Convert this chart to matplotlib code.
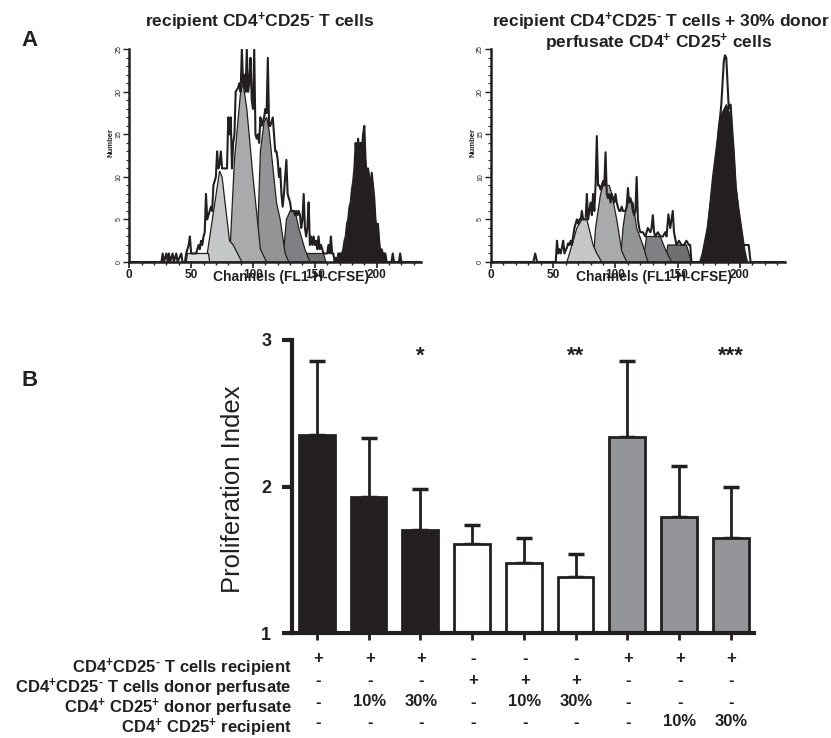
import matplotlib
matplotlib.use("Agg")
import matplotlib.pyplot as plt
from matplotlib.patches import Polygon
from matplotlib.ticker import MultipleLocator
import numpy as np

plt.rcParams.update({
    "font.family": ["Liberation Sans", "DejaVu Sans"],
    "mathtext.fontset": "custom",
    "mathtext.rm": "Liberation Sans:bold",
    "mathtext.bf": "Liberation Sans:bold",
    "mathtext.it": "Liberation Sans:bold",
    "mathtext.default": "rm",
})

INK = "#231f20"

# ---------------- Panel A: CFSE histograms ----------------
# raw event counts per channel (recipient CD4+CD25- T cells)
left_ch = [0, 25, 26, 27, 28, 30, 31, 32, 33, 35, 36, 38, 39, 42, 43, 45, 46, 48, 49, 50,
           52, 54, 56, 57, 58, 59, 60, 61, 62, 63, 64, 66, 67, 68, 70, 71, 72, 73, 74, 75,
           77, 79, 80, 81, 82, 83, 84, 85, 86, 88, 89, 90, 91, 92, 93, 94, 95, 96, 97, 98,
           99, 100, 101, 102, 103, 104, 105, 106, 107, 108, 109, 110, 111, 112, 113, 114, 115, 116, 117, 118,
           119, 120, 121, 122, 123, 124, 125, 126, 127, 128, 129, 130, 131, 132, 133, 134, 135, 136, 137, 138,
           139, 140, 141, 142, 143, 144, 145, 146, 147, 148, 149, 150, 151, 152, 153, 154, 155, 156, 157, 158,
           160, 161, 162, 163, 164, 165, 166, 167, 168, 169, 170, 171, 172, 173, 174, 175, 176, 177, 178, 179,
           180, 181, 182, 183, 184, 185, 186, 187, 188, 189, 190, 191, 192, 193, 194, 195, 196, 197, 198, 199,
           200, 201, 202, 203, 204, 205, 206, 207, 208, 212, 213, 214, 218, 219, 220, 236]
left_cnt = [0, 0, 0, 1, 0, 1, 0, 1, 0, 1, 0, 1, 0, 1, 0, 0, 1, 2, 3, 1,
            1, 1, 2, 1.5, 2.5, 2, 3, 3.5, 8, 5, 5.5, 6.5, 6, 9, 10, 13, 11, 11.5, 13, 11,
            11, 11, 17, 15, 17, 11, 14, 15, 20, 20.5, 21, 20, 25, 21, 22, 20, 25, 20, 21, 24,
            19, 18, 25, 15, 14.5, 15, 14, 17, 16, 16.5, 17, 18, 17.5, 24, 16, 16, 16.5, 17, 15, 13,
            13, 12, 10, 11, 8, 6.5, 8, 10, 12, 8, 7.5, 7, 6, 6, 6, 5.5, 6, 5.5, 6, 5.5,
            4, 5, 8, 4, 3, 4, 7, 2, 3, 2, 3, 2, 2.5, 1.5, 3, 1.5, 2, 1.5, 1, 1,
            1, 2, 1, 3, 1, 1, 0, 0.5, 0, 1, 1, 1, 1, 1.5, 2.5, 3, 4.5, 5, 6.5, 7,
            8.5, 9.5, 11, 14, 12, 14.5, 12.7, 14, 13, 15, 16, 12, 10, 11, 10, 8, 10.5, 9, 7.6, 5,
            4, 4.5, 2.5, 1, 1.5, 1, 1, 1, 0, 0, 1, 0, 0, 1, 0, 0]
left_parent = (168, 208)  # undivided parent peak, filled black

# fitted generations (channel, count) outlines, from parent side to most divided
left_gens = [
    [(142, 0), (143, 1), (157, 1), (159, 0)],
    [(124, 0), (127, 5), (130, 6), (134, 6), (137, 4), (142, 1.5), (146, 0)],
    [(103, 0), (106, 13), (109, 16.5), (111, 17), (113, 15.5), (119, 7), (122, 5), (126, 1), (129, 0)],
    [(81, 0), (85, 12), (90, 20), (92, 21), (95, 18), (100, 10), (106, 1.5), (111, 0)],
    [(62, 0), (73, 10.7), (75, 10), (81, 2.5), (84, 2), (91, 0)],
    [(46, 0), (47, 1), (64, 1), (65, 0)],
]

# recipient CD4+CD25- T cells + 30% donor perfusate CD4+CD25+ cells
right_ch = [0, 34, 35.5, 37, 52, 53, 54, 55, 56, 57, 58, 59, 61, 62, 63, 64, 65, 66, 67, 68,
            69, 70, 71, 72, 73, 74, 75, 76, 77, 78, 79, 80, 81, 82, 83, 84, 85, 86, 87, 88,
            89, 90, 91, 92, 93, 94, 95, 96, 97, 98, 99, 100, 101, 102, 103, 104, 105, 106, 107, 108,
            109, 110, 111, 112, 113, 114, 115, 116, 117, 118, 119, 120, 122, 124, 126, 128, 129, 130, 131, 132,
            134, 136, 138, 140, 141, 142.5, 144, 145, 146, 147, 149, 151, 153, 155, 157, 159, 160, 161, 168, 169,
            170, 172, 174, 176, 178, 180, 181, 183, 184, 185, 186, 187, 188, 189, 190, 191, 192.5, 194, 195, 196.5,
            198, 199, 200, 202, 204.5, 207, 208.5, 236]
right_cnt = [0, 0, 1, 0, 0, 2.5, 1, 1.5, 1, 1.7, 2.5, 1, 1.7, 2.2, 2, 2.5, 2, 3, 4, 4.5,
             5, 4.5, 5, 5, 6, 5, 5, 5, 8, 5, 6, 7, 5.5, 8, 6, 9, 14.8, 9, 9, 8.5,
             9, 9.5, 9, 12.9, 8, 7.5, 8, 7, 8, 7.5, 7, 8, 7, 6.4, 6, 6, 6.5, 6, 6, 6,
             6.5, 8.7, 7, 7.5, 7, 6, 5.5, 6, 10, 5, 4, 3.5, 3.5, 3, 4, 3.5, 4, 5.5, 3.5, 3,
             3.5, 3, 3, 3.5, 3, 5.6, 4, 5, 6, 3.5, 2, 2.5, 2, 2, 2.5, 2, 2, 0, 0, 0.5,
             1, 2.5, 4, 6.4, 8.5, 11, 12, 15.8, 17, 18.5, 21, 23.6, 24.3, 24, 21, 18, 18.5, 15, 13, 9,
             7, 5, 4, 2, 2, 2, 0, 0]

right_gens = [
    [(169, 0), (173, 2.5), (178, 10), (184, 17), (189, 18.5), (193, 17), (197, 8.4), (204, 1.3), (206, 0)],
    [(140, 0), (142, 2), (157, 2), (159, 1), (161, 0)],
    [(122, 0), (125, 3), (136, 3), (140, 1.5), (145, 0)],
    [(104, 0), (106, 4), (108, 6), (110, 7), (114, 7), (117, 4), (122, 2), (126, 0)],
    [(82, 0), (84, 4), (88, 8), (90, 9), (95, 9), (97, 8), (101, 5), (105, 1.3), (109, 0)],
    [(61, 0), (65, 2), (69, 4), (73, 5), (77, 5), (82, 2), (85, 1), (89, 0)],
]

left_gen_colors = ["#6e6f71", "#7f8083", "#939496", "#a9aaac", "#c6c7c8", "#dfe0e0"]
right_gen_colors = [INK, "#6e6f71", "#7f8083", "#939496", "#a9aaac", "#c6c7c8"]

# ---------------- Panel B: proliferation index ----------------
pi_mean = [2.35, 1.93, 1.70, 1.61, 1.48, 1.38, 2.34, 1.79, 1.65]
pi_err = [0.51, 0.40, 0.28, 0.13, 0.17, 0.16, 0.52, 0.35, 0.35]
bar_group = ["recipient", "recipient", "recipient", "donor", "donor", "donor", "treg", "treg", "treg"]
stars = {2: "*", 5: "**", 8: "***"}

row_labels = [
    r"CD4$^{+}$CD25$^{\text{-}}$ T cells recipient",
    r"CD4$^{+}$CD25$^{\text{-}}$ T cells donor perfusate",
    r"CD4$^{+}$ CD25$^{+}$ donor perfusate",
    r"CD4$^{+}$ CD25$^{+}$ recipient",
]
row_signs = [
    ["+", "+", "+", "-", "-", "-", "+", "+", "+"],
    ["-", "-", "-", "+", "+", "+", "-", "-", "-"],
    ["-", "10%", "30%", "-", "10%", "30%", "-", "-", "-"],
    ["-", "-", "-", "-", "-", "-", "-", "10%", "30%"],
]

group_colors = {"recipient": INK, "donor": "white", "treg": "#939598"}

W, H = 831, 738
fig = plt.figure(figsize=(W / 100, H / 100), dpi=100)


def fx(px):
    return px / W


def fy(py):
    return 1 - py / H


def draw_hist(rect, ch, cnt, gens, colors, parent=None):
    ax = fig.add_axes(rect)
    for k, (verts, col) in enumerate(zip(gens, colors)):
        ax.add_patch(Polygon(verts, closed=True, facecolor=col, edgecolor=INK,
                             linewidth=0.9, zorder=2 + k * 0.1))
    ch = np.array(ch)
    cnt = np.array(cnt)
    if parent is not None:
        m = (ch >= parent[0]) & (ch <= parent[1])
        ax.fill_between(ch[m], cnt[m], color=INK, linewidth=0, zorder=3)
    ax.plot(ch, cnt, color=INK, linewidth=1.5, zorder=4)
    ax.set_xlim(0, 236)
    ax.set_ylim(0, 25)
    for s in ["top", "right"]:
        ax.spines[s].set_visible(False)
    for s in ["left", "bottom"]:
        ax.spines[s].set_linewidth(1.8)
        ax.spines[s].set_color(INK)
    ax.xaxis.set_major_locator(MultipleLocator(50))
    ax.xaxis.set_minor_locator(MultipleLocator(10))
    ax.yaxis.set_major_locator(MultipleLocator(5))
    ax.yaxis.set_minor_locator(MultipleLocator(1))
    ax.tick_params(axis="x", which="major", length=4, width=1.2, pad=1, labelsize=8.5, colors=INK)
    ax.tick_params(axis="x", which="minor", length=2.5, width=1, colors=INK)
    ax.tick_params(axis="y", which="major", length=4, width=1, pad=1, labelsize=5, colors=INK)
    ax.tick_params(axis="y", which="minor", length=2, width=0.8, colors=INK)
    for t in ax.get_xticklabels():
        t.set_fontweight("bold")
    for t in ax.get_yticklabels():
        t.set_rotation(90)
        t.set_va("center")
    ax.set_ylabel("Number", fontsize=5.5, fontweight="bold", color=INK)
    ax.yaxis.set_label_coords(-0.05, 0.56)
    ax.text(131, -0.07, "Channels (FL1-H-CFSE)", transform=ax.get_xaxis_transform(),
            ha="center", va="center", fontsize=10, fontweight="bold", color=INK)
    ax.patch.set_alpha(0)
    return ax


draw_hist([fx(129.3), fy(262), (421.2 - 129.3) / W, (262 - 49.3) / H],
          left_ch, left_cnt, left_gens, left_gen_colors, parent=left_parent)
draw_hist([fx(491), fy(262), (784.8 - 491) / W, (262 - 49.3) / H],
          right_ch, right_cnt, right_gens, right_gen_colors)

fig.text(fx(260), fy(22), r"recipient CD4$^{+}$CD25$^{\text{-}}$ T cells", ha="center", va="center",
         fontsize=12.5, fontweight="bold", color=INK)
fig.text(fx(661), fy(22), r"recipient CD4$^{+}$CD25$^{\text{-}}$ T cells + 30% donor", ha="center",
         va="center", fontsize=12.5, fontweight="bold", color=INK)
fig.text(fx(659), fy(43), r"perfusate CD4$^{+}$ CD25$^{+}$ cells", ha="center", va="center",
         fontsize=12.5, fontweight="bold", color=INK)

fig.text(fx(30), fy(41), "A", ha="center", va="center", fontsize=16, fontweight="bold", color=INK)
fig.text(fx(30), fy(381), "B", ha="center", va="center", fontsize=16, fontweight="bold", color=INK)

# ---------------- Panel B ----------------
axb = fig.add_axes([fx(292), fy(633), (754 - 292) / W, (633 - 340) / H])
x = np.arange(len(pi_mean))
axb.errorbar(x, pi_mean, yerr=[np.zeros(len(pi_err)), pi_err], fmt="none", ecolor=INK,
             elinewidth=2, capsize=6, capthick=2.5, zorder=1)
axb.bar(x, pi_mean, width=0.69, color=[group_colors[g] for g in bar_group], edgecolor=INK,
        linewidth=2, zorder=2)
for i, s in stars.items():
    axb.text(i, 2.89, s, ha="center", va="center", fontsize=16, fontweight="bold", color=INK)
axb.set_xlim(-0.48, 8.45)
axb.set_ylim(1, 3)
for s in ["top", "right"]:
    axb.spines[s].set_visible(False)
for s in ["left", "bottom"]:
    axb.spines[s].set_linewidth(3)
    axb.spines[s].set_color(INK)
axb.set_yticks([1, 2, 3])
axb.set_xticks(x)
axb.set_xticklabels([])
axb.tick_params(axis="y", length=7, width=3, pad=8, labelsize=13, colors=INK)
axb.tick_params(axis="x", length=5, width=2, colors=INK)
for t in axb.get_yticklabels():
    t.set_fontweight("bold")
axb.set_ylabel("Proliferation Index", fontsize=18.5, color=INK)
axb.yaxis.set_label_coords((245 - 292) / (754 - 292), (633 - 489) / (633 - 340))
axb.patch.set_alpha(0)

# treatment table under the bars
bar_px = [317 + 51.7 * i for i in range(9)]
sign_y = [658, 681, 702, 722]
label_y = [668, 688, 708, 728]
for r, (lab, signs) in enumerate(zip(row_labels, row_signs)):
    fig.text(fx(292), fy(label_y[r]), lab, ha="right", va="center", fontsize=12,
             fontweight="bold", color=INK)
    for i, s in enumerate(signs):
        fig.text(fx(bar_px[i] + 1), fy(sign_y[r]), s, ha="center", va="center", fontsize=12,
                 fontweight="bold", color=INK)

fig.savefig("out.png", dpi=100)
